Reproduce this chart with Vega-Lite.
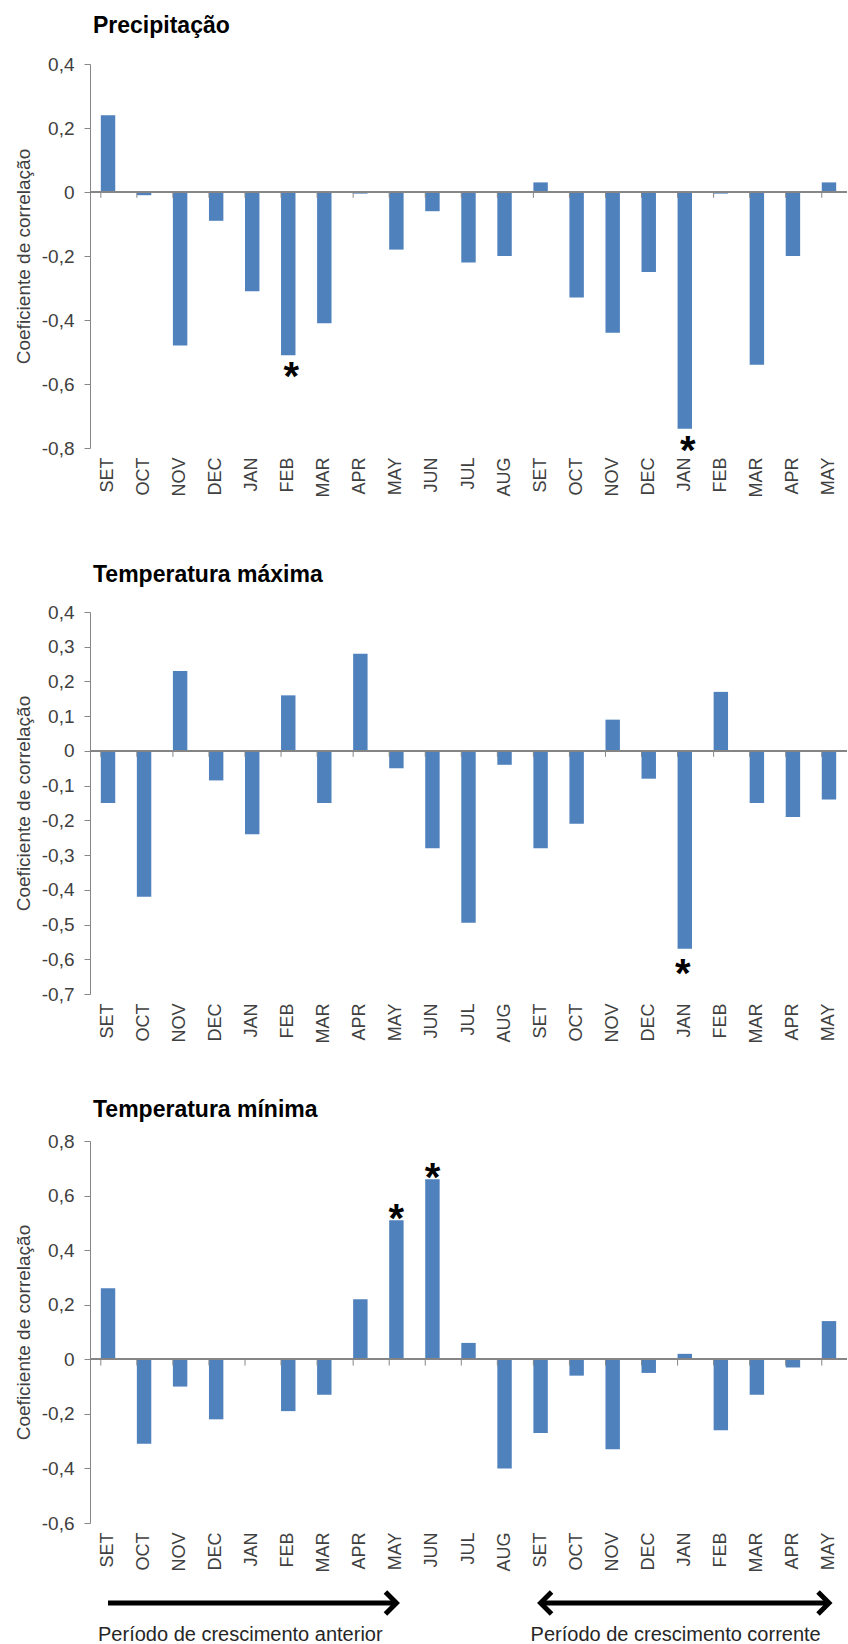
{
  "$schema": "https://vega.github.io/schema/vega-lite/v6.json",
  "background": "white",
  "padding": {"left": 14, "top": 15, "right": 0, "bottom": 2},
  "config": {
    "view": {"stroke": null},
    "font": "Liberation Sans",
    "axis": {
      "labelFont": "Liberation Sans",
      "titleFont": "Liberation Sans",
      "labelColor": "#404040",
      "titleColor": "#404040",
      "domainColor": "#868686",
      "tickColor": "#868686",
      "grid": false,
      "labelOverlap": false
    },
    "axisX": {
      "labelAngle": -90,
      "labelFontSize": 18,
      "labelPadding": 9,
      "ticks": false,
      "tickSize": 0,
      "domain": false,
      "title": null,
      "labelExpr": "substring(datum.label, 3)"
    },
    "axisY": {
      "labelFontSize": 19,
      "labelPadding": 10,
      "tickSize": 6,
      "titleFontSize": 19,
      "titleFontWeight": "normal",
      "titlePadding": 8,
      "labelOverlap": false,
      "labelExpr": "datum.value == 0 ? '0' : (datum.value < 0 ? '-' : '') + replace(format(abs(datum.value), '.1f'), '.', ',')"
    },
    "title": {
      "anchor": "start",
      "frame": "group",
      "font": "Liberation Sans",
      "fontSize": 23,
      "fontWeight": "bold",
      "color": "#000000",
      "dx": 3
    }
  },
  "datasets": {
    "precip": [
      {"mes": "01 SET", "r": 0.24, "sig": ""},
      {"mes": "02 OCT", "r": -0.01, "sig": ""},
      {"mes": "03 NOV", "r": -0.48, "sig": ""},
      {"mes": "04 DEC", "r": -0.09, "sig": ""},
      {"mes": "05 JAN", "r": -0.31, "sig": ""},
      {"mes": "06 FEB", "r": -0.51, "sig": "*"},
      {"mes": "07 MAR", "r": -0.41, "sig": ""},
      {"mes": "08 APR", "r": -0.005, "sig": ""},
      {"mes": "09 MAY", "r": -0.18, "sig": ""},
      {"mes": "10 JUN", "r": -0.06, "sig": ""},
      {"mes": "11 JUL", "r": -0.22, "sig": ""},
      {"mes": "12 AUG", "r": -0.2, "sig": ""},
      {"mes": "13 SET", "r": 0.03, "sig": ""},
      {"mes": "14 OCT", "r": -0.33, "sig": ""},
      {"mes": "15 NOV", "r": -0.44, "sig": ""},
      {"mes": "16 DEC", "r": -0.25, "sig": ""},
      {"mes": "17 JAN", "r": -0.74, "sig": "*"},
      {"mes": "18 FEB", "r": -0.005, "sig": ""},
      {"mes": "19 MAR", "r": -0.54, "sig": ""},
      {"mes": "20 APR", "r": -0.2, "sig": ""},
      {"mes": "21 MAY", "r": 0.03, "sig": ""}
    ],
    "tmax": [
      {"mes": "01 SET", "r": -0.15, "sig": ""},
      {"mes": "02 OCT", "r": -0.42, "sig": ""},
      {"mes": "03 NOV", "r": 0.23, "sig": ""},
      {"mes": "04 DEC", "r": -0.085, "sig": ""},
      {"mes": "05 JAN", "r": -0.24, "sig": ""},
      {"mes": "06 FEB", "r": 0.16, "sig": ""},
      {"mes": "07 MAR", "r": -0.15, "sig": ""},
      {"mes": "08 APR", "r": 0.28, "sig": ""},
      {"mes": "09 MAY", "r": -0.05, "sig": ""},
      {"mes": "10 JUN", "r": -0.28, "sig": ""},
      {"mes": "11 JUL", "r": -0.495, "sig": ""},
      {"mes": "12 AUG", "r": -0.04, "sig": ""},
      {"mes": "13 SET", "r": -0.28, "sig": ""},
      {"mes": "14 OCT", "r": -0.21, "sig": ""},
      {"mes": "15 NOV", "r": 0.09, "sig": ""},
      {"mes": "16 DEC", "r": -0.08, "sig": ""},
      {"mes": "17 JAN", "r": -0.57, "sig": "*"},
      {"mes": "18 FEB", "r": 0.17, "sig": ""},
      {"mes": "19 MAR", "r": -0.15, "sig": ""},
      {"mes": "20 APR", "r": -0.19, "sig": ""},
      {"mes": "21 MAY", "r": -0.14, "sig": ""}
    ],
    "tmin": [
      {"mes": "01 SET", "r": 0.26, "sig": ""},
      {"mes": "02 OCT", "r": -0.31, "sig": ""},
      {"mes": "03 NOV", "r": -0.1, "sig": ""},
      {"mes": "04 DEC", "r": -0.22, "sig": ""},
      {"mes": "05 JAN", "r": 0, "sig": ""},
      {"mes": "06 FEB", "r": -0.19, "sig": ""},
      {"mes": "07 MAR", "r": -0.13, "sig": ""},
      {"mes": "08 APR", "r": 0.22, "sig": ""},
      {"mes": "09 MAY", "r": 0.51, "sig": "*"},
      {"mes": "10 JUN", "r": 0.66, "sig": "*"},
      {"mes": "11 JUL", "r": 0.06, "sig": ""},
      {"mes": "12 AUG", "r": -0.4, "sig": ""},
      {"mes": "13 SET", "r": -0.27, "sig": ""},
      {"mes": "14 OCT", "r": -0.06, "sig": ""},
      {"mes": "15 NOV", "r": -0.33, "sig": ""},
      {"mes": "16 DEC", "r": -0.05, "sig": ""},
      {"mes": "17 JAN", "r": 0.02, "sig": ""},
      {"mes": "18 FEB", "r": -0.26, "sig": ""},
      {"mes": "19 MAR", "r": -0.13, "sig": ""},
      {"mes": "20 APR", "r": -0.03, "sig": ""},
      {"mes": "21 MAY", "r": 0.14, "sig": ""}
    ],
    "periodos": [
      {"periodo": "Período de crescimento anterior", "ini": "01 SET", "fim": "09 MAY", "duplo": false},
      {"periodo": "Período de crescimento corrente", "ini": "13 SET", "fim": "21 MAY", "duplo": true}
    ]
  },
  "spacing": 56,
  "vconcat": [
    {
      "spacing": 67,
      "vconcat": [
        {
          "width": 757,
          "height": 384,
          "data": {"name": "precip"},
          "title": {"text": "Precipitação", "offset": 17},
          "layer": [
            {
              "mark": {"type": "bar", "color": "#4f81bd"},
              "encoding": {
                "x": {"field": "mes", "type": "nominal", "scale": {"paddingInner": 0.6, "paddingOuter": 0.3}},
                "y": {"field": "r", "type": "quantitative", "scale": {"domain": [-0.8, 0.4], "nice": false},
                      "axis": {"title": "Coeficiente de correlação", "tickCount": 20, "values": [-0.8, -0.6, -0.4, -0.2, 0, 0.2, 0.4]}}
              }
            },
            {
              "mark": {"type": "rule", "color": "#868686", "strokeWidth": 1},
              "encoding": {"y": {"datum": 0}}
            },
            {
              "mark": {"type": "rule", "color": "#868686", "strokeWidth": 1},
              "encoding": {
                "x": {"field": "mes", "type": "nominal", "bandPosition": 0},
                "y": {"datum": 0},
                "y2": {"datum": -0.018}
              }
            },
            {
              "transform": [{"filter": "datum.sig == '*'"}],
              "mark": {"type": "text", "baseline": "alphabetic", "dy": 35, "dx": 3, "fontSize": 40, "fontWeight": "bold", "color": "#000000"},
              "encoding": {
                "x": {"field": "mes", "type": "nominal"},
                "y": {"field": "r", "type": "quantitative"},
                "text": {"field": "sig"}
              }
            }
          ]
        },
        {
          "width": 757,
          "height": 382,
          "data": {"name": "tmax"},
          "title": {"text": "Temperatura máxima", "offset": 16},
          "layer": [
            {
              "mark": {"type": "bar", "color": "#4f81bd"},
              "encoding": {
                "x": {"field": "mes", "type": "nominal", "scale": {"paddingInner": 0.6, "paddingOuter": 0.3}},
                "y": {"field": "r", "type": "quantitative", "scale": {"domain": [-0.7, 0.4], "nice": false},
                      "axis": {"title": "Coeficiente de correlação", "tickCount": 20, "values": [-0.7, -0.6, -0.5, -0.4, -0.3, -0.2, -0.1, 0, 0.1, 0.2, 0.3, 0.4]}}
              }
            },
            {
              "mark": {"type": "rule", "color": "#868686", "strokeWidth": 1},
              "encoding": {"y": {"datum": 0}}
            },
            {
              "mark": {"type": "rule", "color": "#868686", "strokeWidth": 1},
              "encoding": {
                "x": {"field": "mes", "type": "nominal", "bandPosition": 0},
                "y": {"datum": 0},
                "y2": {"datum": -0.017}
              }
            },
            {
              "transform": [{"filter": "datum.sig == '*'"}],
              "mark": {"type": "text", "baseline": "alphabetic", "dy": 38, "dx": -2, "fontSize": 40, "fontWeight": "bold", "color": "#000000"},
              "encoding": {
                "x": {"field": "mes", "type": "nominal"},
                "y": {"field": "r", "type": "quantitative"},
                "text": {"field": "sig"}
              }
            }
          ]
        }
      ]
    },
    {
      "spacing": 10,
      "vconcat": [
        {
          "width": 757,
          "height": 382,
          "data": {"name": "tmin"},
          "title": {"text": "Temperatura mínima", "offset": 10},
          "layer": [
            {
              "mark": {"type": "bar", "color": "#4f81bd"},
              "encoding": {
                "x": {"field": "mes", "type": "nominal", "scale": {"paddingInner": 0.6, "paddingOuter": 0.3}},
                "y": {"field": "r", "type": "quantitative", "scale": {"domain": [-0.6, 0.8], "nice": false},
                      "axis": {"title": "Coeficiente de correlação", "tickCount": 20, "values": [-0.6, -0.4, -0.2, 0, 0.2, 0.4, 0.6, 0.8]}}
              }
            },
            {
              "mark": {"type": "rule", "color": "#868686", "strokeWidth": 1},
              "encoding": {"y": {"datum": 0}}
            },
            {
              "mark": {"type": "rule", "color": "#868686", "strokeWidth": 1},
              "encoding": {
                "x": {"field": "mes", "type": "nominal", "bandPosition": 0},
                "y": {"datum": 0},
                "y2": {"datum": -0.023}
              }
            },
            {
              "transform": [{"filter": "datum.sig == '*'"}],
              "mark": {"type": "text", "baseline": "alphabetic", "dy": 12, "fontSize": 40, "fontWeight": "bold", "color": "#000000"},
              "encoding": {
                "x": {"field": "mes", "type": "nominal"},
                "y": {"field": "r", "type": "quantitative"},
                "text": {"field": "sig"}
              }
            }
          ]
        },
        {
          "width": 757,
          "height": 40,
          "data": {"name": "periodos"},
          "encoding": {
            "x": {"field": "ini", "type": "nominal", "axis": null,
                  "scale": {"domain": ["01 SET", "02 OCT", "03 NOV", "04 DEC", "05 JAN", "06 FEB", "07 MAR", "08 APR", "09 MAY", "10 JUN", "11 JUL", "12 AUG", "13 SET", "14 OCT", "15 NOV", "16 DEC", "17 JAN", "18 FEB", "19 MAR", "20 APR", "21 MAY"],
                            "paddingInner": 0.6, "paddingOuter": 0.3}}
          },
          "layer": [
            {
              "mark": {"type": "rule", "color": "#000000", "strokeWidth": 5},
              "encoding": {"x2": {"field": "fim"}}
            },
            {
              "mark": {"type": "point", "shape": "M-1,-1L0,0L-1,1", "size": 480, "filled": false, "stroke": "#000000", "strokeWidth": 5, "opacity": 1},
              "encoding": {"x": {"field": "fim", "type": "nominal"}}
            },
            {
              "transform": [{"filter": "datum.duplo"}],
              "mark": {"type": "point", "shape": "M1,-1L0,0L1,1", "size": 480, "filled": false, "stroke": "#000000", "strokeWidth": 5, "opacity": 1},
              "encoding": {"x": {"field": "ini", "type": "nominal"}}
            },
            {
              "mark": {"type": "text", "align": "left", "baseline": "alphabetic", "dy": 38, "dx": -10, "fontSize": 20, "color": "#262626"},
              "encoding": {"text": {"field": "periodo"}}
            }
          ]
        }
      ]
    }
  ]
}
